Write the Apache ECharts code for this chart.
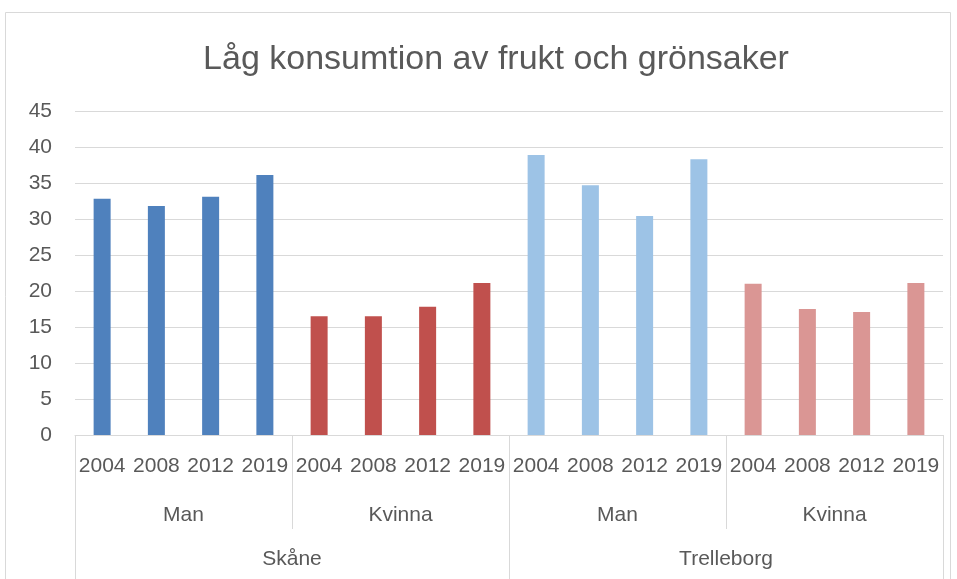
<!DOCTYPE html>
<html>
<head>
<meta charset="utf-8">
<script src="https://cdn.jsdelivr.net/npm/echarts@6/dist/echarts.min.js"></script>
<style>html,body{margin:0;padding:0;background:#fff}#c{width:957px;height:579px}</style>
</head>
<body>
<div id="c"></div>
<script>
const titleText = 'Låg konsumtion av frukt och grönsaker';
const years = ['2004', '2008', '2012', '2019'];
const genders = ['Man', 'Kvinna', 'Man', 'Kvinna'];
const regions = ['Skåne', 'Trelleborg'];
const skaneMan = [32.8, 31.8, 33.1, 36.1];
const skaneKvinna = [16.5, 16.5, 17.8, 21.1];
const trelleborgMan = [38.9, 34.7, 30.4, 38.3];
const trelleborgKvinna = [21.0, 17.5, 17.1, 21.1];
const groupColors = ['#4F81BD', '#C0504D', '#9DC3E6', '#DA9694'];

const groups = [skaneMan, skaneKvinna, trelleborgMan, trelleborgKvinna];
const yearCats = [];
const barData = [];
groups.forEach((g, gi) => {
  g.forEach((v, i) => {
    yearCats.push(years[i]);
    barData.push({ value: v, itemStyle: { color: groupColors[gi] } });
  });
});

const font = 'Liberation Sans';
const txt = '#595959';
const line = '#d9d9d9';

const chart = echarts.init(document.getElementById('c'), null, { renderer: 'canvas' });
chart.setOption({
  animation: false,
  backgroundColor: '#fff',
  title: {
    text: titleText,
    left: 491,
    textAlign: 'center',
    top: 38,
    textStyle: { fontFamily: font, fontSize: 34, fontWeight: 'normal', color: txt }
  },
  graphic: [{
    type: 'rect',
    shape: { x: 5.5, y: 12.5, width: 945, height: 620 },
    style: { fill: 'none', stroke: line, lineWidth: 1 },
    z: -1
  }],
  grid: { left: 75, right: 14, top: 111, bottom: 144, containLabel: false },
  yAxis: {
    type: 'value',
    min: 0, max: 45, interval: 5,
    axisLine: { show: false },
    axisTick: { show: false },
    splitLine: { lineStyle: { color: line, width: 1 } },
    axisLabel: { fontFamily: font, fontSize: 21, color: txt, margin: 23 }
  },
  xAxis: [
    {
      type: 'category',
      data: yearCats,
      position: 'bottom',
      axisLine: { show: true, lineStyle: { color: line } },
      axisTick: { show: false },
      axisLabel: { interval: 0, fontFamily: font, fontSize: 21, color: txt, margin: 21 }
    },
    {
      type: 'category',
      data: genders,
      position: 'bottom',
      axisLine: { show: false },
      axisTick: { show: true, interval: 0, length: 94, lineStyle: { color: line } },
      axisLabel: { interval: 0, fontFamily: font, fontSize: 21, color: txt, margin: 70 }
    },
    {
      type: 'category',
      data: regions,
      position: 'bottom',
      axisLine: { show: false },
      axisTick: { show: true, interval: 0, length: 145, lineStyle: { color: line } },
      axisLabel: { interval: 0, fontFamily: font, fontSize: 21, color: txt, margin: 114 }
    }
  ],
  series: [{
    type: 'bar',
    xAxisIndex: 0,
    barWidth: 17,
    data: barData
  }]
});
</script>
</body>
</html>
